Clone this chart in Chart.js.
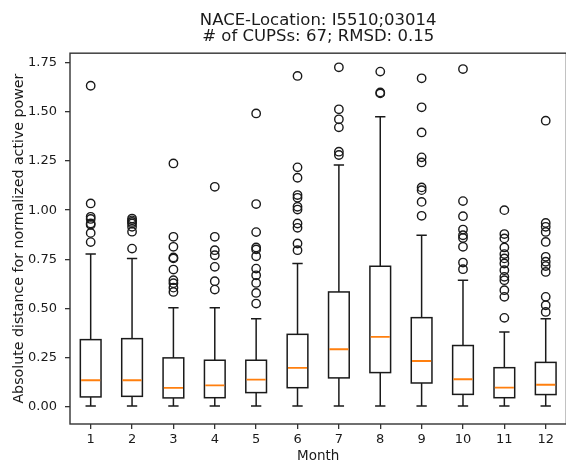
<!DOCTYPE html>
<html>
<head>
<meta charset="utf-8">
<script src="https://cdn.jsdelivr.net/npm/chart.js@4.4.1/dist/chart.umd.min.js"></script>
<style>
  html, body { margin: 0; padding: 0; background: #ffffff; overflow: hidden; }
  #wrap { width: 572px; height: 465px; }
</style>
</head>
<body>
<div id="wrap"><canvas id="c" width="572" height="465"></canvas></div>
<script>
// ---- data ----
const months      = [1, 2, 3, 4, 5, 6, 7, 8, 9, 10, 11, 12];
const whiskerLow  = [0.002, 0.002, 0.002, 0.002, 0.002, 0.002, 0.002, 0.002, 0.002, 0.002, 0.002, 0.002];
const q1          = [0.048, 0.051, 0.043, 0.044, 0.070, 0.095, 0.145, 0.172, 0.119, 0.061, 0.044, 0.060];
const median      = [0.133, 0.133, 0.094, 0.107, 0.136, 0.196, 0.291, 0.354, 0.231, 0.138, 0.095, 0.110];
const q3          = [0.340, 0.345, 0.247, 0.235, 0.235, 0.367, 0.583, 0.714, 0.452, 0.310, 0.197, 0.224];
const whiskerHigh = [0.776, 0.753, 0.503, 0.503, 0.447, 0.728, 1.230, 1.476, 0.872, 0.643, 0.379, 0.447];
const outliers = [
  [1.634, 1.034, 0.966, 0.955, 0.932, 0.925, 0.884, 0.837],
  [0.957, 0.948, 0.940, 0.932, 0.915, 0.890, 0.804],
  [1.238, 0.864, 0.813, 0.759, 0.754, 0.697, 0.643, 0.628, 0.605, 0.583],
  [1.119, 0.864, 0.796, 0.770, 0.711, 0.638, 0.595],
  [1.493, 1.031, 0.888, 0.810, 0.800, 0.765, 0.702, 0.668, 0.629, 0.578, 0.524],
  [1.684, 1.218, 1.165, 1.077, 1.063, 1.017, 1.003, 0.932, 0.910, 0.830, 0.796],
  [1.728, 1.514, 1.463, 1.422, 1.298, 1.281],
  [1.706, 1.600, 1.595],
  [1.672, 1.524, 1.396, 1.269, 1.243, 1.116, 1.102, 1.042, 0.971],
  [1.719, 1.046, 0.969, 0.901, 0.872, 0.858, 0.813, 0.733, 0.699],
  [1.000, 0.878, 0.856, 0.810, 0.776, 0.754, 0.728, 0.694, 0.660, 0.643, 0.592, 0.558, 0.451],
  [1.456, 0.935, 0.915, 0.889, 0.838, 0.762, 0.737, 0.715, 0.685, 0.558, 0.515, 0.481]
];
const yTicks = [0, 0.25, 0.5, 0.75, 1.0, 1.25, 1.5, 1.75];
const titleLines = ['NACE-Location: I5510;03014', '# of CUPSs: 67; RMSD: 0.15'];
const xLabel = 'Month';
const yLabel = 'Absolute distance for normalized active power';

// ---- build scatter data for fliers ----
const flierPoints = [];
months.forEach((m, i) => outliers[i].forEach(v => flierPoints.push({ x: m, y: v })));

const FONT = "'DejaVu Sans', sans-serif";
const LINE_W = 1.5;
const TEXT = '#1a1a1a';

const boxPlugin = {
  id: 'boxes',
  beforeDatasetsDraw(chart) {
    const { ctx, chartArea } = chart;
    const xs = chart.scales.x, ys = chart.scales.y;
    ctx.save();
    ctx.beginPath();
    ctx.rect(chartArea.left, chartArea.top, chartArea.right - chartArea.left, chartArea.bottom - chartArea.top);
    ctx.clip();
    months.forEach((m, i) => {
      const xc = xs.getPixelForValue(m);
      const hw = (xs.getPixelForValue(m + 0.25) - xs.getPixelForValue(m - 0.25)) / 2;
      const cw = hw / 2;
      const yq1 = ys.getPixelForValue(q1[i]);
      const yq3 = ys.getPixelForValue(q3[i]);
      const ymed = ys.getPixelForValue(median[i]);
      const ylo = ys.getPixelForValue(whiskerLow[i]);
      const yhi = ys.getPixelForValue(whiskerHigh[i]);
      ctx.strokeStyle = '#1a1a1a';
      ctx.lineWidth = LINE_W;
      ctx.strokeRect(xc - hw, yq3, 2 * hw, yq1 - yq3);
      ctx.beginPath();
      ctx.moveTo(xc, yq1); ctx.lineTo(xc, ylo);
      ctx.moveTo(xc, yq3); ctx.lineTo(xc, yhi);
      ctx.moveTo(xc - cw, ylo); ctx.lineTo(xc + cw, ylo);
      ctx.moveTo(xc - cw, yhi); ctx.lineTo(xc + cw, yhi);
      ctx.stroke();
      ctx.strokeStyle = '#ff7f0e';
      ctx.lineWidth = 1.8;
      ctx.beginPath();
      ctx.moveTo(xc - hw + 0.8, ymed); ctx.lineTo(xc + hw - 0.8, ymed);
      ctx.stroke();
    });
    ctx.restore();
  },
  afterDraw(chart) {
    const { ctx, chartArea } = chart;
    ctx.save();
    ctx.strokeStyle = '#333333';
    ctx.lineWidth = 1.4;
    ctx.strokeRect(chartArea.left, chartArea.top, chartArea.right - chartArea.left, chartArea.bottom - chartArea.top);
    ctx.restore();
  }
};

new Chart(document.getElementById('c'), {
  type: 'scatter',
  data: {
    datasets: [{
      data: flierPoints,
      pointStyle: 'circle',
      pointRadius: 4.2,
      pointHoverRadius: 4.2,
      pointBorderWidth: 1.4,
      borderColor: '#1a1a1a',
      backgroundColor: 'rgba(0,0,0,0)',
      pointBackgroundColor: 'rgba(0,0,0,0)',
      pointBorderColor: '#1a1a1a'
    }]
  },
  options: {
    responsive: false,
    animation: false,
    events: [],
    layout: { padding: { left: 0, right: 3.5, top: 0, bottom: 0 } },
    plugins: {
      legend: { display: false },
      tooltip: { enabled: false },
      title: {
        display: true,
        fullSize: false,
        text: titleLines,
        color: TEXT,
        font: { family: FONT, size: 16.5, weight: 'normal', lineHeight: 0.96 },
        padding: { top: 13, bottom: 8.5 }
      }
    },
    scales: {
      x: {
        type: 'linear',
        min: 0.5,
        max: 12.5,
        afterBuildTicks(s) { s.ticks = months.map(v => ({ value: v })); },
        afterFit(s) { s.height = 41; },
        ticks: {
          color: TEXT,
          font: { family: FONT, size: 13 },
          padding: 3,
          maxRotation: 0,
          callback: v => String(v)
        },
        grid: { display: true, drawOnChartArea: false, drawTicks: true, tickLength: 5, color: '#333333', lineWidth: 1.3 },
        border: { display: false },
        title: {
          display: true,
          text: xLabel,
          color: TEXT,
          font: { family: FONT, size: 13.5 },
          padding: { top: 0, bottom: 0 }
        }
      },
      y: {
        type: 'linear',
        min: -0.09,
        max: 1.80,
        afterBuildTicks(s) { s.ticks = yTicks.map(v => ({ value: v })); },
        afterFit(s) { s.width = 70; },
        ticks: {
          color: TEXT,
          font: { family: FONT, size: 13 },
          padding: 8,
          callback: v => Number(v).toFixed(2)
        },
        grid: { display: true, drawOnChartArea: false, drawTicks: true, tickLength: 5, color: '#333333', lineWidth: 1.3 },
        border: { display: false },
        title: {
          display: true,
          text: yLabel,
          color: TEXT,
          font: { family: FONT, size: 14.2 },
          padding: { top: 11, bottom: 0 }
        }
      }
    }
  },
  plugins: [boxPlugin]
});
</script>
</body>
</html>
